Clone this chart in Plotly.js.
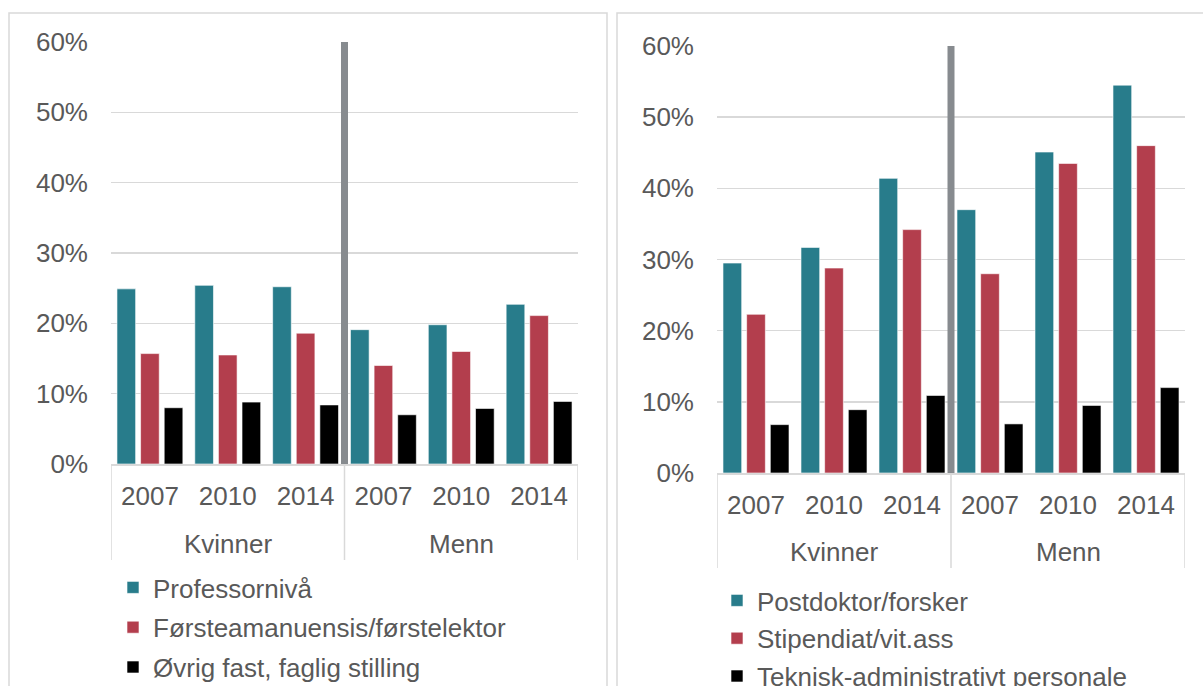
<!DOCTYPE html>
<html><head><meta charset="utf-8">
<script src="https://cdn.plot.ly/plotly-3.0.1.min.js"></script>
<style>html,body{margin:0;padding:0;background:#fff}</style>
</head><body><div id="chart" style="width:1203px;height:686px"></div>
<script>
const groups = ["Kvinner","Kvinner","Kvinner","Menn","Menn","Menn"];
const years = ["2007","2010","2014","2007","2010","2014"];
const leftNames = ["Professornivå","Førsteamanuensis/førstelektor","Øvrig fast, faglig stilling"];
const leftProf = [0.249,0.254,0.252,0.191,0.198,0.227];
const leftForste = [0.157,0.155,0.186,0.140,0.160,0.211];
const leftOvrig = [0.080,0.088,0.084,0.070,0.079,0.089];
const rightNames = ["Postdoktor/forsker","Stipendiat/vit.ass","Teknisk-administrativt personale"];
const rightPost = [0.295,0.317,0.414,0.370,0.451,0.545];
const rightStip = [0.223,0.288,0.342,0.280,0.435,0.460];
const rightTekn = [0.068,0.089,0.109,0.069,0.095,0.120];
const colors = ["#287c8b","#b33e4d","#000000"];

// category positions derived from the category arrays
const idx = years.map((_, i) => i);
const groupNames = [...new Set(groups)];
const groupCenters = groupNames.map(g => {
  const ii = idx.filter(i => groups[i] === g);
  return (ii[0] + ii[ii.length - 1]) / 2;
});
const boundaries = [-0.5];
groupNames.forEach(g => { const ii = idx.filter(i => groups[i] === g); boundaries.push(ii[ii.length - 1] + 0.5); });
const xr = [-0.5, years.length - 0.5];

function mk(vals, name, i, xa, ya, lg){
  return {type:'bar', x:idx, y:vals, name:name, xaxis:xa, yaxis:ya, legend:lg,
    legendgroup:lg+i, marker:{color:colors[i], line:{color:'#ffffff', width:0.6}},
    hoverinfo:'skip'};
}
const data = [
  mk(leftProf, leftNames[0], 0, 'x','y','legend'),
  mk(leftForste, leftNames[1], 1, 'x','y','legend'),
  mk(leftOvrig, leftNames[2], 2, 'x','y','legend'),
  mk(rightPost, rightNames[0], 0, 'x2','y2','legend2'),
  mk(rightStip, rightNames[1], 1, 'x2','y2','legend2'),
  mk(rightTekn, rightNames[2], 2, 'x2','y2','legend2')
];
const W=1203,H=686;
const grid='#d9d9d9', txt='#595959', FS=26;
function xYears(dom, anchor){
  return {domain:dom, anchor:anchor, range:xr, tickmode:'array', tickvals:idx, ticktext:years,
    showline:true, linecolor:grid, linewidth:1.5, ticks:'', showgrid:false, zeroline:false,
    ticklabelstandoff:8, tickfont:{size:FS, color:txt}, fixedrange:true, automargin:false};
}
function yax(dom, anchor){
  return {domain:dom, anchor:anchor, range:[0,0.6], dtick:0.1, tickformat:'.0%', gridcolor:grid,
    gridwidth:1.5, zeroline:false, showline:false, ticks:'', ticklabelstandoff:22,
    tickfont:{size:FS, color:txt}, fixedrange:true, automargin:false};
}
const panels = [
  {xa:'x', ya:'y', axisY:464, divBottom:560, groupY:544},
  {xa:'x2', ya:'y2', axisY:473, divBottom:568, groupY:552}
];
const shapes = [
  {type:'rect', xref:'paper', yref:'paper', x0:9/W, x1:607/W, y0:-0.1, y1:1-13/H, line:{color:grid, width:1.5}, layer:'below'},
  {type:'rect', xref:'paper', yref:'paper', x0:617/W, x1:1.05, y0:-0.1, y1:1-13/H, line:{color:grid, width:1.5}, layer:'below'}
];
const annotations = [];
panels.forEach(p => {
  boundaries.forEach(b => shapes.push({type:'line', xref:p.xa, yref:'paper', x0:b, x1:b,
    y0:1-p.axisY/H, y1:1-p.divBottom/H, line:{color:grid, width:1.5}}));
  shapes.push({type:'line', xref:p.xa, yref:p.ya, x0:boundaries[1], x1:boundaries[1], y0:-0.004, y1:0.6,
    line:{color:'#878b8f', width:7}});
  groupNames.forEach((g, k) => annotations.push({xref:p.xa, yref:'paper', x:groupCenters[k], y:1-p.groupY/H,
    text:g, showarrow:false, xanchor:'center', yanchor:'middle', font:{size:FS, color:txt}}));
});
const layout = {
  width:W, height:H, margin:{l:0,r:0,t:0,b:0,pad:0,autoexpand:false}, paper_bgcolor:'#ffffff', plot_bgcolor:'rgba(0,0,0,0)',
  barmode:'group', bargap:0.09, bargroupgap:0.21, showlegend:true,
  font:{family:'Liberation Sans, Arial, sans-serif', color:txt, size:FS},
  xaxis: xYears([111/W, 578/W], 'y'),
  yaxis: yax([1-464/H, 1-42/H], 'x'),
  xaxis2: xYears([717/W, 1185/W], 'y2'),
  yaxis2: yax([1-473/H, 1-46/H], 'x2'),
  legend:{x:113/W, y:1-564/H, xanchor:'left', yanchor:'top',
    orientation:'v', tracegroupgap:3, bgcolor:'rgba(0,0,0,0)', font:{size:FS, color:txt}, maxheight:1},
  legend2:{x:717/W, y:1-577/H, xanchor:'left', yanchor:'top',
    orientation:'v', tracegroupgap:1, bgcolor:'rgba(0,0,0,0)', font:{size:FS, color:txt}, maxheight:1},
  shapes: shapes,
  annotations: annotations
};
Plotly.newPlot('chart', data, layout, {displayModeBar:false, staticPlot:true});
</script></body></html>
